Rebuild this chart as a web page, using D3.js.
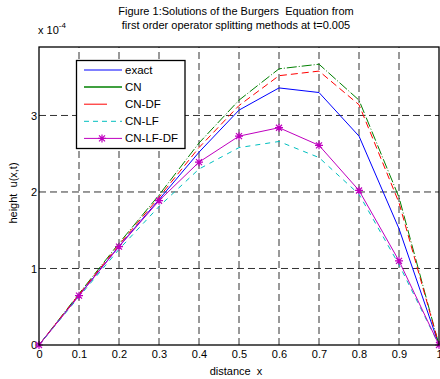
<!DOCTYPE html>
<html>
<head>
<meta charset="utf-8">
<script src="https://cdn.jsdelivr.net/npm/d3@7"></script>
<style>
  body { margin: 0; background: #fff; }
  svg { font-family: "Liberation Sans", Arial, sans-serif; }
  text { white-space: pre; }
</style>
</head>
<body>
<div id="chart"></div>
<script>
// values are in units of 1e-4
var xs = [0, 0.1, 0.2, 0.3, 0.4, 0.5, 0.6, 0.7, 0.8, 0.9, 1];
var exact  = [0, 0.65, 1.29, 1.90, 2.52, 3.07, 3.36, 3.30, 2.73, 1.52, 0];
var cn     = [0, 0.67, 1.33, 1.96, 2.64, 3.20, 3.61, 3.67, 3.20, 1.93, 0];
var cnDf   = [0, 0.66, 1.31, 1.93, 2.58, 3.13, 3.52, 3.58, 3.14, 1.86, 0];
var cnLf   = [0, 0.63, 1.25, 1.81, 2.30, 2.58, 2.66, 2.45, 1.97, 1.05, 0];
var cnLfDf = [0, 0.645, 1.285, 1.886, 2.39, 2.73, 2.84, 2.61, 2.02, 1.10, 0];

var seriesNames = ["exact", "CN", "CN-DF", "CN-LF", "CN-LF-DF"];
var seriesData = [exact, cn, cnDf, cnLf, cnLfDf];
var seriesColors = ["#0000ff", "#008000", "#ff0000", "#00bfbf", "#bf00bf"];
var seriesDash = [null, "10,2,1,2", "7,4", "5,5", null];
var legendDash = [null, null, null, "5,4", null];

var xTicks = [0, 0.1, 0.2, 0.3, 0.4, 0.5, 0.6, 0.7, 0.8, 0.9, 1];
var yTicks = [0, 1, 2, 3];

var width = 440, height = 379;
var margin = {left: 39, right: 1, top: 47, bottom: 34};

var svg = d3.select("#chart").append("svg")
  .attr("width", width)
  .attr("height", height);

var x = d3.scaleLinear().domain([0, 1]).range([margin.left, width - margin.right]);
var y = d3.scaleLinear().domain([0, 3.895]).range([height - margin.bottom, margin.top]);

// grid
svg.selectAll(".vgrid")
  .data(xTicks.slice(1, -1))
  .enter().append("line")
  .attr("x1", function(d) { return x(d); })
  .attr("x2", function(d) { return x(d); })
  .attr("y1", y(0))
  .attr("y2", y.range()[1])
  .attr("stroke", "#333")
  .attr("stroke-width", 1)
  .attr("stroke-dasharray", "7,4");

svg.selectAll(".hgrid")
  .data(yTicks.slice(1))
  .enter().append("line")
  .attr("x1", x(0))
  .attr("x2", x(1))
  .attr("y1", function(d) { return y(d); })
  .attr("y2", function(d) { return y(d); })
  .attr("stroke", "#333")
  .attr("stroke-width", 1)
  .attr("stroke-dasharray", "7,4");

// axes
var xAxis = d3.axisBottom(x).tickValues(xTicks).tickSize(0).tickPadding(5)
  .tickFormat(function(d) { return d === 0 || d === 1 ? d3.format("d")(d) : d3.format(".1f")(d); });
svg.append("g")
  .attr("transform", "translate(0," + y(0) + ")")
  .call(xAxis)
  .call(function(g) { g.select(".domain").remove(); })
  .selectAll("text").attr("font-size", 11).attr("fill", "#000").attr("font-family", "Liberation Sans, Arial, sans-serif");

var yAxis = d3.axisLeft(y).tickValues(yTicks).tickSize(0).tickPadding(2).tickFormat(d3.format("d"));
svg.append("g")
  .attr("transform", "translate(" + x(0) + ",0)")
  .call(yAxis)
  .call(function(g) { g.select(".domain").remove(); })
  .selectAll("text").attr("font-size", 11).attr("fill", "#000").attr("font-family", "Liberation Sans, Arial, sans-serif");

// lines
var line = d3.line()
  .x(function(d, i) { return x(xs[i]); })
  .y(function(d) { return y(d); });

seriesData.forEach(function(s, k) {
  svg.append("path")
    .datum(s)
    .attr("d", line)
    .attr("fill", "none")
    .attr("stroke", seriesColors[k])
    .attr("stroke-width", 1)
    .attr("stroke-dasharray", seriesDash[k]);
});

function star(g, cx, cy, color) {
  var r = 4, d = 3;
  g.append("path")
    .attr("d", "M" + (cx - r) + "," + cy + "H" + (cx + r) +
      "M" + cx + "," + (cy - r) + "V" + (cy + r) +
      "M" + (cx - d) + "," + (cy - d) + "L" + (cx + d) + "," + (cy + d) +
      "M" + (cx - d) + "," + (cy + d) + "L" + (cx + d) + "," + (cy - d))
    .attr("stroke", color)
    .attr("stroke-width", 1.2)
    .attr("fill", "none");
}

var markers = svg.append("g");
cnLfDf.forEach(function(v, i) {
  star(markers, x(xs[i]), y(v), seriesColors[4]);
});

// box
svg.append("rect")
  .attr("x", x(0))
  .attr("y", y.range()[1])
  .attr("width", x(1) - x(0))
  .attr("height", y(0) - y.range()[1])
  .attr("fill", "none")
  .attr("stroke", "#000")
  .attr("stroke-width", 1.3);

// legend
var lg = svg.append("g");
lg.append("rect")
  .attr("x", 76.5).attr("y", 60.5)
  .attr("width", 108.5).attr("height", 88)
  .attr("fill", "#fff")
  .attr("stroke", "#000")
  .attr("stroke-width", 1.3);

seriesNames.forEach(function(name, k) {
  var ly = 70 + k * 17.1;
  lg.append("line")
    .attr("x1", 84).attr("x2", k === 2 ? 107 : 122)
    .attr("y1", ly).attr("y2", ly)
    .attr("stroke", seriesColors[k])
    .attr("stroke-width", k === 1 ? 1.5 : 1)
    .attr("stroke-dasharray", legendDash[k]);
  if (k === 4) star(lg, 102, ly, seriesColors[4]);
  lg.append("text")
    .attr("x", 125).attr("y", ly + 4)
    .attr("font-size", 11.5)
    .text(name);
});

// titles
var title = svg.append("text")
  .attr("text-anchor", "middle")
  .attr("font-size", 11);
title.append("tspan").attr("x", 236).attr("y", 15).text("Figure 1:Solutions of the Burgers  Equation from");
title.append("tspan").attr("x", 236).attr("y", 29).text("first order operator splitting methods at t=0.005");

var exp = svg.append("text").attr("x", 38).attr("y", 34).attr("font-size", 11);
exp.append("tspan").text("x 10");
exp.append("tspan").attr("dy", -6).attr("font-size", 8).text("-4");

svg.append("text")
  .attr("x", 236).attr("y", 375)
  .attr("text-anchor", "middle")
  .attr("font-size", 11)
  .text("distance  x");

svg.append("text")
  .attr("transform", "translate(17,193) rotate(-90)")
  .attr("text-anchor", "middle")
  .attr("font-size", 11)
  .text("height  u(x,t)");
</script>
</body>
</html>
